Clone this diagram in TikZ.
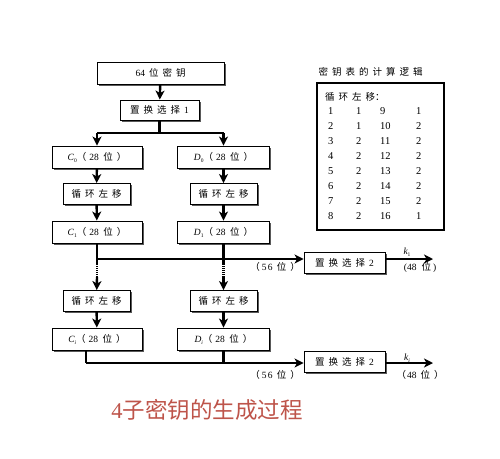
\documentclass[tikz,border=0pt]{standalone}
\usepackage{fontspec}
\setmainfont{Liberation Serif}
\newfontfamily\cjk{Noto Sans CJK SC}
\usetikzlibrary{arrows.meta,shadows}
\definecolor{titlered}{RGB}{190,84,74}
\newcommand\gp{\hspace{4pt}}
\newcommand\sbs[1]{\raisebox{-2pt}{\fontsize{5.5}{6}\selectfont #1}}
\newcommand\bitsx[1]{{\cjk （}\hspace{3pt}#1\hspace{4.5pt}{\cjk 位\hspace{4pt}）}}
\newcommand\shiftx{{\cjk 循\gp 环\gp 左\gp 移}}
\newcommand\pctwo{{\cjk 置\gp 换\gp 选\gp 择}\gp 2}
\begin{document}
\begin{tikzpicture}[x=1pt,y=-1pt,
  box/.style={draw,line width=0.9pt,fill=white,inner sep=0pt,
    minimum height=21pt,font=\fontsize{9.5}{10}\selectfont,
    drop shadow={shadow xshift=1.6pt,shadow yshift=-1.6pt,fill=black!65,opacity=1}},
  conn/.style={line width=2.4pt},
  connt/.style={line width=1.4pt},
  arr/.style={-{Stealth[length=9pt,width=9pt,inset=2.5pt]}},
  lbl/.style={inner sep=0pt,font=\fontsize{9.5}{10}\selectfont},
  tnum/.style={inner sep=0pt,anchor=base west,font=\fontsize{10.5}{11}\selectfont}]
\fill[white] (0,0) rectangle (500,458);
\useasboundingbox (0,0) rectangle (500,458);

% boxes
\node[box,minimum width=127pt,minimum height=22pt] (key) at (160.5,73) {64\gp{\cjk 位\gp 密\gp 钥}};
\node[box,minimum width=79pt,minimum height=20pt] (pc1) at (159.5,110) {{\cjk 置\gp 换\gp 选\gp 择}\gp 1};
\node[box,minimum width=90pt,minimum height=22pt] (c0) at (97,157) {{\itshape C}\sbs{0}\bitsx{28}};
\node[box,minimum width=92pt,minimum height=22pt] (d0) at (223.5,157) {{\itshape D}\sbs{0}\bitsx{28}};
\node[box,minimum width=67pt] (lc1) at (96.5,194) {\shiftx};
\node[box,minimum width=67pt] (ld1) at (223.5,194) {\shiftx};
\node[box,minimum width=90pt,minimum height=22pt] (c1) at (97,232) {{\itshape C}\sbs{1}\bitsx{28}};
\node[box,minimum width=92pt,minimum height=22pt] (d1) at (223.5,232) {{\itshape D}\sbs{1}\bitsx{28}};
\node[box,minimum width=67pt] (lc2) at (96.5,301) {\shiftx};
\node[box,minimum width=67pt] (ld2) at (223.5,301) {\shiftx};
\node[box,minimum width=90pt,minimum height=22pt] (ci) at (97,339) {{\itshape C}\sbs{\itshape i}\bitsx{28}};
\node[box,minimum width=92pt,minimum height=22pt] (di) at (223.5,339) {{\itshape D}\sbs{\itshape i}\bitsx{28}};
\node[box,minimum width=81pt] (pca) at (344.5,263) {\pctwo};
\node[box,minimum width=81pt] (pcb) at (344.5,362) {\pctwo};

% coordinates
\coordinate (s0) at (159.5,133);
\coordinate (sl) at (97,133);
\coordinate (sr) at (223.5,133);
\coordinate (ja) at (97,259);
\coordinate (ca) at (97,264);
\coordinate (cb) at (97,277);
\coordinate (da) at (223.5,264);
\coordinate (db) at (223.5,277);
\coordinate (ka) at (433,259);
\coordinate (bl) at (86,363);
\coordinate (br) at (223.5,363);
\coordinate (kb) at (433,363);

% connectors
\draw[conn,arr] (key) -- (pc1);
\draw[conn] (pc1) -- (s0);
\draw[conn] (sl) -- (sr);
\draw[conn,arr] (sl) -- (c0);
\draw[conn,arr] (sr) -- (d0);
\draw[conn,arr] (c0) -- (lc1);
\draw[conn,arr] (d0) -- (ld1);
\draw[conn,arr] (lc1) -- (c1);
\draw[conn,arr] (ld1) -- (d1);
\draw[connt,arr] (ja) -- (ja -| pca.west);
\draw[connt,arr] (pca.east |- ja) -- (ka);
\draw[conn] (c1) -- (ca);
\draw[conn] (d1) -- (da);
\draw[line width=2.4pt,dash pattern=on 1pt off 1pt] (ca) -- (cb);
\draw[line width=2.4pt,dash pattern=on 1pt off 1pt] (da) -- (db);
\draw[conn,arr] (cb) -- (lc2);
\draw[conn,arr] (db) -- (ld2);
\draw[conn,arr] (lc2) -- (ci);
\draw[conn,arr] (ld2) -- (di);
\draw[connt] (ci.south -| bl) -- (bl);
\draw[connt,arr] (bl) -- (bl -| pcb.west);
\draw[conn] (di) -- (br);
\draw[connt,arr] (pcb.east |- bl) -- (kb);

% labels
\node[lbl] (l56a) at (275,267) {{\cjk （}\hspace{2pt}5\hspace{1.5pt}6\gp{\cjk 位\gp）}};
\node[lbl] (l48a) at (420,267) {(48\hspace{5pt}{\cjk 位}\hspace{2pt})};
\node[lbl] (k1) at (407,252) {{\itshape k}\sbs{1}};
\node[lbl] (l56b) at (275,375) {{\cjk （}\hspace{2pt}5\hspace{1.5pt}6\gp{\cjk 位\gp）}};
\node[lbl] (l48b) at (420,375) {{\cjk （}\hspace{1pt}48\gp{\cjk 位\gp）}};
\node[lbl] (ki) at (407,358) {{\itshape k}\sbs{\itshape i}};

% table
\node[lbl] (ttl) at (370.5,72) {\cjk 密\gp 钥\gp 表\gp 的\gp 计\gp 算\gp 逻\gp 辑};
\node[draw,line width=1.3pt,inner sep=0pt,minimum width=127pt,minimum height=147pt,fill=white,
  drop shadow={shadow xshift=1pt,shadow yshift=-1pt,fill=black!60,opacity=1}] (tbl) at (380.5,156.5) {};
\node[lbl,anchor=west] (thd) at (325,97) {\cjk 循\gp 环\gp 左\gp 移：};
\foreach \a/\b/\c/\d [count=\i] in {1/1/9/1,2/1/10/2,3/2/11/2,4/2/12/2,5/2/13/2,6/2/14/2,7/2/15/2,8/2/16/1}{
  \node[tnum] (r\i a) at (328,99.5+15*\i) {\a};
  \node[tnum] (r\i b) at (356,99.5+15*\i) {\b};
  \node[tnum] (r\i c) at (380,99.5+15*\i) {\c};
  \node[tnum] (r\i d) at (416,99.5+15*\i) {\d};
}

% title
\node[inner sep=0pt,text=titlered,font=\fontsize{22.5}{24}\selectfont] (title) at (207,410) {4{\cjk 子密钥的生成过程}};
\end{tikzpicture}
\end{document}
